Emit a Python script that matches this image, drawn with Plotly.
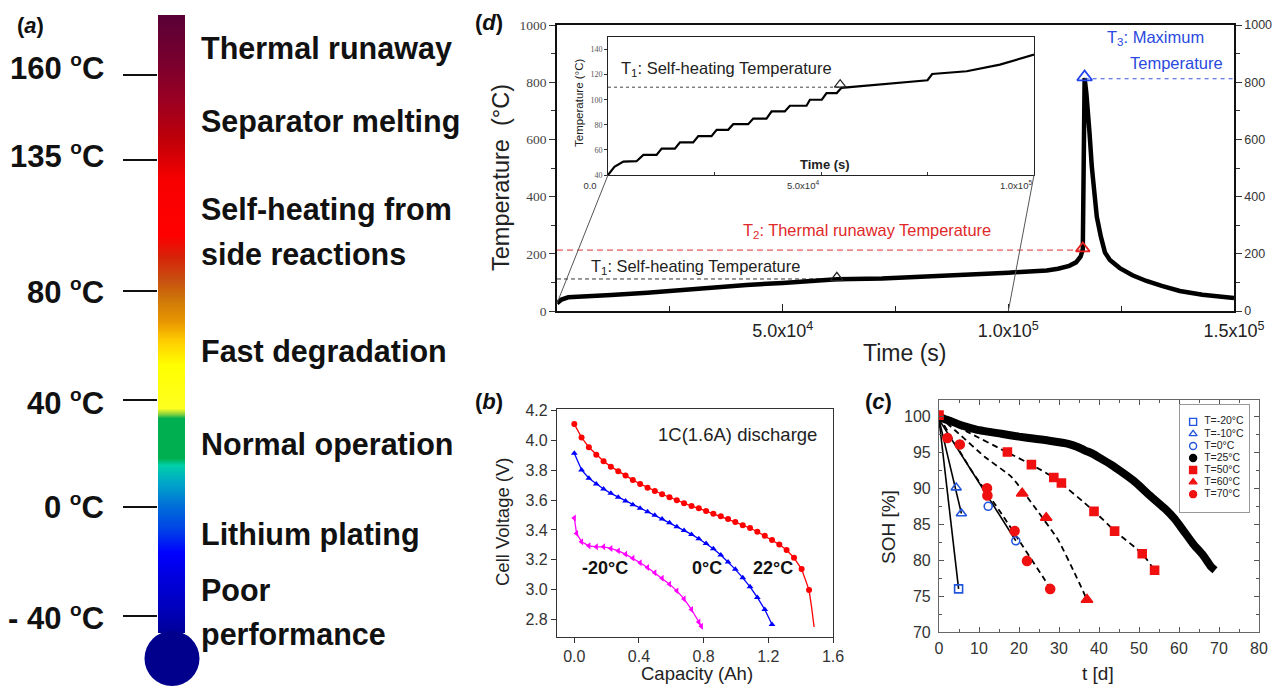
import plotly.graph_objects as go

W, H = 1276, 689

# ---------------- DATA ----------------
# (a) thermometer labels
thermo_tick_labels = ["160 <sup>o</sup>C", "135 <sup>o</sup>C", "80 <sup>o</sup>C",
                      "40 <sup>o</sup>C", "0 <sup>o</sup>C", "- 40 <sup>o</sup>C"]
thermo_zone_labels = ["Thermal runaway", "Separator melting", "Self-heating from<br>side reactions",
                      "Fast degradation", "Normal operation", "Lithium plating", "Poor<br>performance"]

# (d) main temperature record
d_time = [0, 1000, 2500, 6000, 12000, 20000, 27000, 35000, 42000, 50000,
          57000, 62000, 72000, 79000, 86000, 94000, 100000, 105000, 108500, 111000,
          113500, 115000, 116000, 116500, 116700, 116900, 117300, 117700, 118000, 118500,
          119000, 119600, 120500, 121400, 122500, 124700, 127500, 130600, 134000, 138000,
          143000, 150000]
d_temp = [27, 40, 48, 52, 56, 64, 73, 82, 91, 98,
          106, 111, 114, 120, 124, 129, 134, 138, 142, 148,
          158, 170, 190, 215, 500, 815, 760, 700, 620, 504,
          420, 330, 260, 205, 178, 150, 125, 105, 88, 70,
          57, 45]
d_T1_time, d_T1 = 62000, 112
d_T2_time, d_T2 = 116500, 213
d_T3_time, d_T3 = 116900, 812
d_xticks = [50000, 100000, 150000]
d_xticktext = ["5.0x10<sup>4</sup>", "1.0x10<sup>5</sup>", "1.5x10<sup>5</sup>"]

# (d) inset
inset_time = [0, 1500, 3600, 6700, 8300, 11400, 12600, 15700, 16900, 20000,
              21200, 24300, 25500, 28200, 29400, 32900, 34100, 37200, 38400, 41500,
              42700, 46600, 47400, 50200, 51300, 53700, 54800, 65000, 75000, 76100,
              84200, 92000, 100000]
inset_temp = [40, 46.5, 50.7, 51, 56, 56, 61, 61, 66, 66,
              71, 71, 76, 76, 80.5, 80.5, 85, 85, 90.7, 90.7,
              95.2, 95.2, 100, 100, 105.3, 105.3, 109.5, 112.5, 115.5, 120.5,
              122.7, 128, 136]
inset_T1_time, inset_T1 = 54500, 110
inset_xticks = [0, 50000, 100000]
inset_xticktext = ["0.0", "5.0x10<sup>4</sup>", "1.0x10<sup>5</sup>"]

# (b) discharge curves
b22_cap = [0, 0.045, 0.09, 0.136, 0.181, 0.226, 0.272, 0.317, 0.362, 0.407,
           0.453, 0.498, 0.543, 0.589, 0.634, 0.679, 0.725, 0.77, 0.815, 0.86,
           0.906, 0.951, 0.996, 1.042, 1.087, 1.132, 1.178, 1.223, 1.268, 1.313,
           1.359, 1.406, 1.452, 1.468, 1.483]
b22_v = [4.109, 4.019, 3.954, 3.903, 3.860, 3.824, 3.793, 3.764, 3.735, 3.708,
         3.683, 3.661, 3.639, 3.619, 3.599, 3.578, 3.560, 3.545, 3.527, 3.509,
         3.491, 3.473, 3.453, 3.431, 3.413, 3.388, 3.361, 3.332, 3.303, 3.265,
         3.213, 3.138, 2.997, 2.88, 2.75]
b0_cap = [0, 0.045, 0.09, 0.136, 0.181, 0.226, 0.272, 0.317, 0.362, 0.407,
          0.453, 0.498, 0.543, 0.589, 0.634, 0.679, 0.725, 0.77, 0.815, 0.86,
          0.906, 0.951, 0.996, 1.042, 1.087, 1.132, 1.178, 1.223]
b0_v = [3.914, 3.802, 3.746, 3.708, 3.674, 3.645, 3.619, 3.594, 3.569, 3.545,
        3.522, 3.498, 3.473, 3.448, 3.421, 3.397, 3.370, 3.341, 3.310, 3.274,
        3.232, 3.185, 3.136, 3.079, 3.019, 2.948, 2.867, 2.767]
bm20_cap = [0, 0.014, 0.045, 0.09, 0.136, 0.181, 0.226, 0.272, 0.317, 0.362,
            0.407, 0.453, 0.498, 0.543, 0.589, 0.634, 0.679, 0.725, 0.77, 0.786]
bm20_v = [3.48, 3.377, 3.321, 3.294, 3.287, 3.287, 3.276, 3.260, 3.238, 3.211,
          3.180, 3.149, 3.113, 3.077, 3.037, 2.992, 2.938, 2.867, 2.784, 2.755]

# (c) state of health vs time
c_m20_t, c_m20_soh = [4.9], [76.0]
c_m10_t, c_m10_soh = [4.3, 5.6], [90.1, 86.5]
c_0_t, c_0_soh = [12.3, 19.2], [87.5, 82.7]
c_25_t = [0, 1.2, 2.7, 5, 7.3, 10, 15.6, 20, 24, 28, 32.3, 34.5, 36.4, 38.5, 40.6, 43, 45.6,
          49, 52.7, 56.8, 59, 61, 63.5, 66, 68, 69]
c_25_soh = [100, 99.7, 99.4, 98.9, 98.5, 98.1, 97.6, 97.2, 96.9, 96.6, 96.2, 95.8, 95.3, 94.8,
            94.1, 93.3, 92.3, 90.9, 89.0, 87.0, 85.7, 84.2, 82.3, 80.7, 79.1, 78.6]
c_50_t = [0, 17.1, 23.1, 28.7, 30.6, 38.75, 43.9, 50.8, 53.9]
c_50_soh = [100.2, 95.05, 93.3, 91.5, 90.75, 86.8, 84.05, 80.9, 78.6]
c_60_t, c_60_soh = [20.8, 26.8, 37.0], [89.3, 85.9, 74.5]
c_70_t = [2.1, 5.2, 12.0, 12.1, 18.9, 22.0, 27.8]
c_70_soh = [97.0, 96.1, 90.0, 89.0, 84.05, 79.9, 76.0]
# fitted lines
fit_m20_t, fit_m20_soh = [0, 4.9], [99.6, 76.0]
fit_m10_t, fit_m10_soh = [0, 5.6], [99.6, 86.5]
fit_0_t, fit_0_soh = [0, 19.2], [99.6, 82.7]
fit_50_t = [0, 7, 17.1, 23.1, 28.7, 38.8, 43.9, 50.8, 53.9]
fit_50_soh = [100, 97.9, 95.0, 93.3, 91.5, 86.8, 84.1, 80.9, 78.6]
fit_60_t = [0, 5, 11.4, 18.1, 23.9, 29.8, 33.9, 37]
fit_60_soh = [100, 97.6, 94.4, 91.6, 87.4, 82.8, 78.2, 74.5]
fit_70_t = [0, 8.1, 15.6, 21, 26.4, 27.8]
fit_70_soh = [100, 92.5, 86.5, 81.9, 77.3, 76.0]
legend_labels = ["T=-20°C", "T=-10°C", "T=0°C", "T=25°C", "T=50°C", "T=60°C", "T=70°C"]

# ---------------- STYLE / LAYOUT ----------------
SANS = "Liberation Sans, Arial, sans-serif"
SERIF = "Liberation Serif, Times New Roman, serif"
BOLDF = "Liberation Sans, Arial, sans-serif"
BLUE = "#2255dd"
RED = "#f01010"

BOX_D = (557, 25, 1234, 311)
BOX_IN = (608, 37, 1034, 175)
BOX_B = (557, 409, 833, 637)
BOX_C = (939, 400, 1259, 632)
BOX_TH = (158, 15, 185, 633)
BOX_LEG = (1180, 405, 1249, 512)


def xdom(b):
    return [b[0] / W, b[2] / W]


def ydom(b):
    return [1 - b[3] / H, 1 - b[1] / H]


def ann(text, x, y, size, color="#222", xanchor="center", yanchor="middle",
        family=SANS, angle=0):
    return dict(text=text, x=x / W, y=1 - y / H, xref="paper", yref="paper",
                showarrow=False, font=dict(size=size, color=color, family=family),
                xanchor=xanchor, yanchor=yanchor, textangle=angle, align="left")


fig = go.Figure()

# ---- (a) thermometer ----
thermo_stops = [(15, "#5a0036"), (60, "#78002e"), (100, "#9a0022"), (140, "#c00008"),
                (180, "#f80000"), (235, "#ff0000"), (255, "#d82008"), (280, "#c85010"),
                (300, "#d07808"), (322, "#e89800"), (340, "#ffcc00"), (365, "#ffff00"),
                (408, "#ffff20"), (414, "#80d040"), (418, "#00b050"), (458, "#00b050"),
                (465, "#00d0a8"), (482, "#00a8c8"), (505, "#0070d8"), (530, "#0040e8"),
                (553, "#0000ff"), (575, "#0000e0"), (605, "#0000c0"), (633, "#000098")]
top, bot = BOX_TH[1], BOX_TH[3]
cscale = [[(p - top) / (bot - top), c] for p, c in thermo_stops]
fig.add_trace(go.Heatmap(x=[0, 1], y=[top, bot], z=[[top, top], [bot, bot]],
                         zmin=top, zmax=bot, colorscale=cscale, zsmooth="best",
                         showscale=False, hoverinfo="skip", xaxis="x5", yaxis="y5"))
thermo_tick_pos = [75, 160, 291, 400, 507, 616]
thermo_label_y = [67, 156, 292, 402, 507, 617]
zone_label_y = [48, 121, 210, 351, 444, 534, 590]
ZONE_LINE_GAP = 44

# ---- (d) main ----
fig.add_trace(go.Scatter(x=[0, d_T1_time], y=[d_T1, d_T1], mode="lines",
                         line=dict(color="#333", width=1, dash="4px,3px"), xaxis="x", yaxis="y"))
fig.add_trace(go.Scatter(x=[0, d_T2_time], y=[d_T2, d_T2], mode="lines",
                         line=dict(color="#e03030", width=1, dash="6px,4px"), xaxis="x", yaxis="y"))
fig.add_trace(go.Scatter(x=[d_T3_time, 150000], y=[d_T3, d_T3], mode="lines",
                         line=dict(color="#3355dd", width=1.2, dash="4px,4px"), xaxis="x", yaxis="y4"))
fig.add_trace(go.Scatter(x=d_time, y=d_temp, mode="lines",
                         line=dict(color="black", width=4.5), xaxis="x", yaxis="y"))
fig.add_trace(go.Scatter(x=[d_T1_time], y=[d_T1 + 4], mode="markers",
                         marker=dict(symbol="triangle-up-open", size=11, color="#222", line=dict(width=1.3)),
                         xaxis="x", yaxis="y"))
fig.add_trace(go.Scatter(x=[d_T2_time], y=[d_T2 + 6], mode="markers",
                         marker=dict(symbol="triangle-up-open", size=12, color="#e82020", line=dict(width=1.8)),
                         xaxis="x", yaxis="y"))
fig.add_trace(go.Scatter(x=[d_T3_time], y=[d_T3 + 6], mode="markers",
                         marker=dict(symbol="triangle-up-open", size=13, color="#2244ee", line=dict(width=1.8)),
                         xaxis="x", yaxis="y4"))

# ---- (d) inset ----
fig.add_trace(go.Scatter(x=[0, inset_T1_time], y=[inset_T1, inset_T1], mode="lines",
                         line=dict(color="#444", width=1, dash="dot"), xaxis="x3", yaxis="y3"))
fig.add_trace(go.Scatter(x=inset_time, y=inset_temp, mode="lines",
                         line=dict(color="black", width=2.2), xaxis="x3", yaxis="y3"))
fig.add_trace(go.Scatter(x=[inset_T1_time], y=[inset_T1 + 2], mode="markers",
                         marker=dict(symbol="triangle-up-open", size=10, color="#222", line=dict(width=1.2)),
                         xaxis="x3", yaxis="y3"))

# ---- (b) ----
fig.add_trace(go.Scatter(x=bm20_cap, y=bm20_v, mode="lines+markers",
                         line=dict(color="#ff00ff", width=1.3),
                         marker=dict(symbol="triangle-left", size=6, color="#ff00ff"),
                         xaxis="x6", yaxis="y6"))
fig.add_trace(go.Scatter(x=b0_cap, y=b0_v, mode="lines+markers",
                         line=dict(color="#0000ff", width=1.3),
                         marker=dict(symbol="triangle-up", size=6, color="#0000ff"),
                         xaxis="x6", yaxis="y6"))
fig.add_trace(go.Scatter(x=b22_cap, y=b22_v, mode="lines",
                         line=dict(color="#ff0000", width=1.3), xaxis="x6", yaxis="y6"))
fig.add_trace(go.Scatter(x=b22_cap[:-2], y=b22_v[:-2], mode="markers",
                         marker=dict(symbol="circle", size=6, color="#ff0000"),
                         xaxis="x6", yaxis="y6"))

# ---- (c) ----
fig.add_trace(go.Scatter(x=c_25_t, y=c_25_soh, mode="lines",
                         line=dict(color="black", width=8, shape="spline", smoothing=0.6),
                         xaxis="x7", yaxis="y7"))
for ft, fs in [(fit_m20_t, fit_m20_soh), (fit_m10_t, fit_m10_soh), (fit_0_t, fit_0_soh)]:
    fig.add_trace(go.Scatter(x=ft, y=fs, mode="lines", line=dict(color="black", width=1.6),
                             xaxis="x7", yaxis="y7"))
for ft, fs in [(fit_50_t, fit_50_soh), (fit_60_t, fit_60_soh), (fit_70_t, fit_70_soh)]:
    fig.add_trace(go.Scatter(x=ft, y=fs, mode="lines",
                             line=dict(color="black", width=1.8, dash="6px,4px", shape="spline", smoothing=0.5),
                             xaxis="x7", yaxis="y7"))
series_c = [(c_m20_t, c_m20_soh, "square-open", BLUE, 8),
            (c_m10_t, c_m10_soh, "triangle-up-open", BLUE, 9),
            (c_0_t, c_0_soh, "circle-open", BLUE, 8),
            (c_50_t, c_50_soh, "square", RED, 8),
            (c_60_t, c_60_soh, "triangle-up", RED, 10),
            (c_70_t, c_70_soh, "circle", RED, 9)]
for t, s, sym, col, sz in series_c:
    fig.add_trace(go.Scatter(x=t, y=s, mode="markers",
                             marker=dict(symbol=sym, size=sz, color=col, line=dict(width=1.6, color=col)),
                             xaxis="x7", yaxis="y7"))

# legend of (c)
leg_symbols = ["square-open", "triangle-up-open", "circle-open", "circle", "square", "triangle-up", "circle"]
leg_colors = [BLUE, BLUE, BLUE, "black", RED, RED, RED]
rows = list(range(len(legend_labels)))
fig.add_trace(go.Scatter(x=[0.19] * len(rows), y=rows, mode="markers",
                         marker=dict(symbol=leg_symbols, color=leg_colors, size=7,
                                     line=dict(width=1.4, color=leg_colors)),
                         xaxis="x9", yaxis="y9"))
fig.add_trace(go.Scatter(x=[0.35] * len(rows), y=rows, mode="text", text=legend_labels,
                         textposition="middle right",
                         textfont=dict(size=10.5, color="#222", family=SANS),
                         xaxis="x9", yaxis="y9"))

# ---------------- AXES ----------------
tick_font = dict(family=SANS, size=16, color="#333")
common = dict(showgrid=False, zeroline=False)

layout = dict(
    width=W, height=H, autosize=False,
    margin=dict(l=0, r=0, t=0, b=0, pad=0, autoexpand=False),
    paper_bgcolor="white", plot_bgcolor="white", showlegend=False,
    # (d) main
    xaxis=dict(domain=xdom(BOX_D), range=[0, 150000], anchor="y", tickvals=d_xticks,
               ticktext=d_xticktext, ticks="inside", ticklen=7, tickwidth=1.2, tickcolor="#222",
               minor=dict(tickvals=[25000, 75000, 125000], ticks="inside", ticklen=5, tickcolor="#222"),
               showline=True, mirror=True, linecolor="#111", linewidth=1.5,
               tickfont=dict(family=SANS, size=18, color="#222"), ticklabelstandoff=3, **common),
    yaxis=dict(domain=ydom(BOX_D), range=[0, 1000], anchor="x", dtick=200, ticks="outside",
               ticklen=6, tickcolor="#333", minor=dict(dtick=100, ticks="outside", ticklen=4, tickcolor="#333"),
               showline=True, linecolor="#111", linewidth=1.5,
               tickfont=dict(family=SERIF, size=13.5, color="#444"), **common),
    yaxis4=dict(overlaying="y", side="right", anchor="x", range=[0, 1000], dtick=200,
                ticks="outside", ticklen=6, tickcolor="#333",
                minor=dict(dtick=100, ticks="outside", ticklen=4, tickcolor="#333"),
                showline=True, linecolor="#111", linewidth=1.5,
                tickfont=dict(family=SANS, size=12.5, color="#333"), **common),
    # inset
    xaxis3=dict(domain=xdom(BOX_IN), range=[0, 100000], anchor="y3", tickvals=inset_xticks,
                ticktext=inset_xticktext, ticks="inside", ticklen=3, tickcolor="#333",
                minor=dict(tickvals=[25000, 75000], ticks="inside", ticklen=3, tickcolor="#333"),
                showline=True, mirror=True, linecolor="#222", linewidth=1,
                tickfont=dict(family=SANS, size=9.5, color="#333"), ticklabelshift=-18,
                ticklabelstandoff=2, **common),
    yaxis3=dict(domain=ydom(BOX_IN), range=[40, 150], anchor="x3", dtick=20, ticks="outside",
                ticklen=3, tickcolor="#333", showline=True, mirror=True, linecolor="#222", linewidth=1,
                tickfont=dict(family=SERIF, size=8, color="#555"), **common),
    # thermometer
    xaxis5=dict(domain=xdom(BOX_TH), range=[0, 1], anchor="y5", visible=False, **common),
    yaxis5=dict(domain=ydom(BOX_TH), range=[BOX_TH[3], BOX_TH[1]], anchor="x5",
                tickvals=thermo_tick_pos, ticks="outside", ticklen=34, tickwidth=1.6,
                tickcolor="#111", showticklabels=False, showline=False, **common),
    # (b)
    xaxis6=dict(domain=xdom(BOX_B), range=[-0.107, 1.6], anchor="y6", dtick=0.4, tick0=0,
                tickformat=".1f", ticks="outside", ticklen=5, tickcolor="#333",
                showline=True, mirror=True, linecolor="#333", linewidth=1.2,
                tickfont=tick_font, **common),
    yaxis6=dict(domain=ydom(BOX_B), range=[2.683, 4.21], anchor="x6", dtick=0.2, tick0=2.8,
                tickformat=".1f", ticks="outside", ticklen=5, tickcolor="#333",
                showline=True, mirror=True, linecolor="#333", linewidth=1.2,
                tickfont=tick_font, **common),
    # (c)
    xaxis7=dict(domain=xdom(BOX_C), range=[0, 80], anchor="y7", dtick=10, ticks="inside",
                ticklen=5, tickcolor="#555", minor=dict(dtick=5, ticks="inside", ticklen=3, tickcolor="#555"),
                showline=True, mirror="ticks", linecolor="#666", linewidth=1.2,
                tickfont=tick_font, ticklabelstandoff=2, **common),
    yaxis7=dict(domain=ydom(BOX_C), range=[70, 102.3], anchor="x7", dtick=5, ticks="inside",
                ticklen=5, tickcolor="#555", minor=dict(dtick=2.5, ticks="inside", ticklen=3, tickcolor="#555"),
                showline=True, mirror="ticks", linecolor="#666", linewidth=1.2,
                tickfont=tick_font, ticklabelstandoff=4, **common),
    # legend box of (c)
    xaxis9=dict(domain=xdom(BOX_LEG), range=[0, 1], anchor="y9", showticklabels=False, ticks="",
                showline=True, mirror=True, linecolor="#999", linewidth=1, **common),
    yaxis9=dict(domain=ydom(BOX_LEG), range=[7.48, -1.4], anchor="x9", showticklabels=False, ticks="",
                showline=True, mirror=True, linecolor="#999", linewidth=1, **common),
)
fig.update_layout(**layout)

# ---------------- SHAPES ----------------
dx, dy = xdom(BOX_D), ydom(BOX_D)
ix, iy = xdom(BOX_IN), ydom(BOX_IN)


def main_to_paper(t, T):
    return dx[0] + t / 150000 * (dx[1] - dx[0]), dy[0] + T / 1000 * (dy[1] - dy[0])


def inset_to_paper(t, T):
    return ix[0] + t / 100000 * (ix[1] - ix[0]), iy[0] + (T - 40) / 110 * (iy[1] - iy[0])


shapes = []
for (mt, mT), (it, iT) in [((0, d_temp[0]), (0, 40)), ((100000, 0), (100000, 40))]:
    x0, y0 = main_to_paper(mt, mT)
    x1, y1 = inset_to_paper(it, iT)
    shapes.append(dict(type="line", xref="paper", yref="paper", x0=x0, y0=y0, x1=x1, y1=y1,
                       line=dict(color="#555", width=1)))
# thermometer bulb
shapes.append(dict(type="circle", xref="paper", yref="paper",
                   x0=144.5 / W, x1=199.5 / W, y0=1 - 686 / H, y1=1 - 631 / H,
                   fillcolor="#00008c", line=dict(width=0)))
fig.update_layout(shapes=shapes)

# ---------------- ANNOTATIONS ----------------
anns = []
# panel labels
anns.append(ann("<b>(<i>a</i>)</b>", 30, 25, 22, "#111"))
anns.append(ann("<b>(<i>d</i>)</b>", 489, 22, 22, "#111"))
anns.append(ann("<b>(<i>b</i>)</b>", 489, 401, 22, "#111"))
anns.append(ann("<b>(<i>c</i>)</b>", 878, 401, 22, "#111"))
# thermometer labels
for lab, yy in zip(thermo_tick_labels, thermo_label_y):
    txt = "<b>" + lab.replace("<sup>o</sup>", "<sup><span style='font-size:19px'>o</span></sup>") + "</b>"
    anns.append(ann(txt, 106, yy, 31, "#111", xanchor="right", family=BOLDF))
for lab, yy in zip(thermo_zone_labels, zone_label_y):
    for k, line in enumerate(lab.split("<br>")):
        anns.append(ann("<b>" + line + "</b>", 199, yy + k * ZONE_LINE_GAP, 30.5, "#111",
                        xanchor="left", family=BOLDF))
# (d)
anns.append(ann("Temperature\u00a0 (°C)", 501, 178, 23.5, "#222", angle=-90))
anns.append(ann("Time (s)", 904, 353, 23, "#222"))
anns.append(ann("T<sub>1</sub>: Self-heating Temperature", 589, 267, 16.4, "#222", xanchor="left"))
anns.append(ann("T<sub>2</sub>: Thermal runaway Temperature", 741, 231, 16.4, "#e02828", xanchor="left"))
anns.append(ann("T<sub>3</sub>: Maximum", 1105, 38, 16.5, "#2a4ae0", xanchor="left"))
anns.append(ann("Temperature", 1128, 63, 16.5, "#2a4ae0", xanchor="left"))
anns.append(ann("T<sub>1</sub>: Self-heating Temperature", 619, 69, 16.5, "#222", xanchor="left"))
anns.append(ann("<b>Time (s)</b>", 825, 165, 13, "#222"))
anns.append(ann("Temperature (°C)", 579, 103, 11.5, "#222", angle=-90))
# (b)
anns.append(ann("1C(1.6A) discharge", 737, 434, 18.5, "#222"))
anns.append(ann("<b>-20°C</b>", 605, 568, 18, "#111"))
anns.append(ann("<b>0°C</b>", 707, 568, 18, "#111"))
anns.append(ann("<b>22°C</b>", 773, 568, 18, "#111"))
anns.append(ann("Cell Voltage (V)", 502, 522, 18.5, "#222", angle=-90))
anns.append(ann("Capacity (Ah)", 697, 673, 18.5, "#222"))
# (c)
anns.append(ann("SOH [%]", 888, 527, 19, "#222", angle=-90))
anns.append(ann("t [d]", 1098, 673, 19, "#222"))
fig.update_layout(annotations=anns)

fig.write_html("out.html", config={"displayModeBar": False},
               post_script="document.body.style.margin='0px';")
